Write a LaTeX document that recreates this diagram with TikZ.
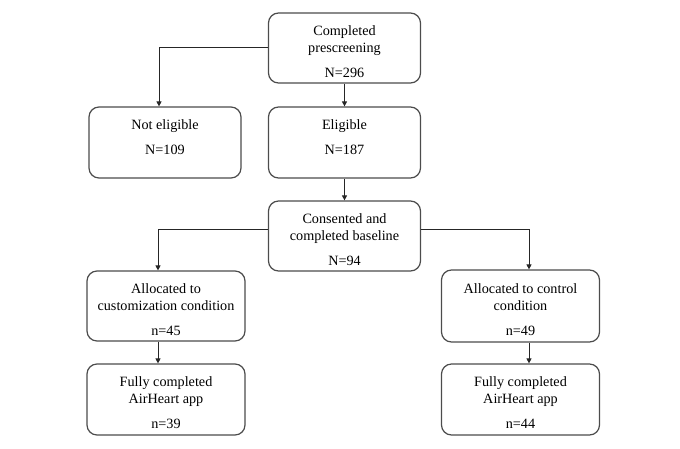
\documentclass[tikz,border=0pt]{standalone}
\usepackage{fontspec}
\setmainfont{Liberation Serif}
\usetikzlibrary{arrows.meta}
\tikzset{every edge/.style={draw,-{Triangle[length=5pt,width=5pt]},line width=0.9pt,draw=black!85},
	flow/.style={-{Triangle[length=5pt,width=5pt]},line width=0.9pt,draw=black!85}}
\tikzstyle{stage}=[rectangle,rounded corners=10pt,draw=black!70,line width=1.2pt,inner sep=0pt,align=center,font=\fontsize{14.2pt}{17pt}\selectfont]
\tikzstyle{narrow}=[stage,minimum width=152pt,minimum height=71pt]
\tikzstyle{wide}=[stage,minimum width=158pt,minimum height=71pt]
% text hangs from the top of each box
\newcommand{\boxtext}[1]{\parbox[c][49pt][t]{148pt}{\centering\strut #1}}

\begin{document}
\begin{tikzpicture}[x=1pt,y=-1pt]
	\useasboundingbox (0,0) rectangle (680,448);
	\node at (344.5,48) [narrow,minimum height=70pt] (1) {\boxtext{Completed\\prescreening\\[8pt]N=296}};
	\node at (165,142.5) [narrow] (2) {\boxtext{Not eligible\\[8pt]N=109}};
	\node at (344.5,142.5) [narrow] (3) {\boxtext{Eligible\\[8pt]N=187}};
	\node at (344.5,236) [narrow,minimum height=70pt] (4) {\boxtext{Consented and\\completed baseline\\[8pt]N=94}};
	\node at (166,306) [wide,minimum height=70pt] (5) {\boxtext{Allocated to\\customization condition\\[8pt]n=45}};
	\node at (520.5,306) [wide,minimum height=72pt] (6) {\boxtext{Allocated to control\\condition\\[8pt]n=49}};
	\node at (166,399.5) [wide] (7) {\boxtext{Fully completed\\AirHeart app\\[8pt]n=39}};
	\node at (520.5,399.5) [wide] (8) {\boxtext{Fully completed\\AirHeart app\\[8pt]n=44}};
	\coordinate (cl) at (158,0);
	\coordinate (cr) at (529,0);
	
	\draw (1) edge (3);
	\draw (3) edge (4);
	\draw [flow] ([yshift=1pt]1.west) -| ([xshift=-6pt]2.north);
	\draw [flow] ([yshift=7pt]4.west) -| (cl |- 5.north);
	\draw [flow] ([yshift=7pt]4.east) -| (cr |- 6.north);
	\draw [flow] (cl |- 5.south) -- (cl |- 7.north);
	\draw [flow] (cr |- 6.south) -- (cr |- 8.north);
\end{tikzpicture}
\end{document}
